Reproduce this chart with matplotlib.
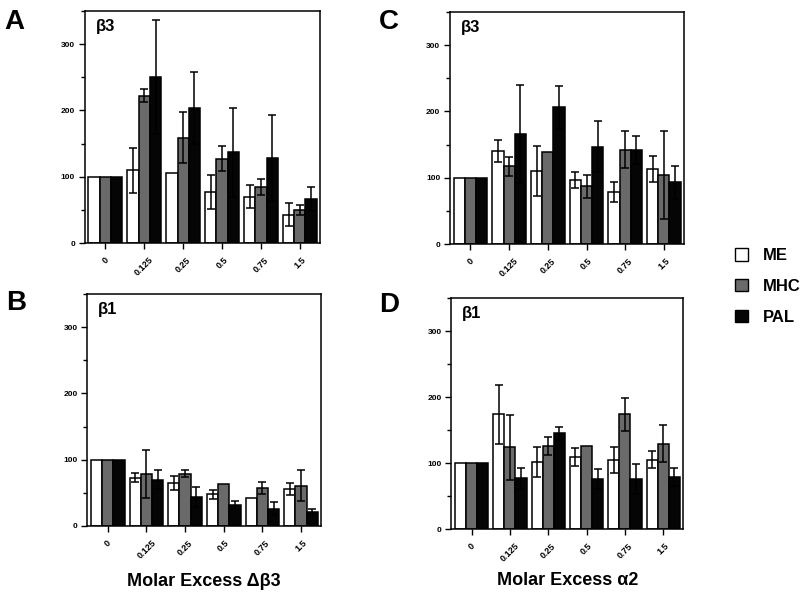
import numpy as np
import matplotlib
matplotlib.use('Agg')
import matplotlib.pyplot as plt
from matplotlib.patches import Patch
from matplotlib.ticker import MultipleLocator

plt.rcParams['font.family'] = ['Liberation Sans', 'DejaVu Sans']

# categories (molar excess) and series
conc = ['0', '0.125', '0.25', '0.5', '0.75', '1.5']
series = ['ME', 'MHC', 'PAL']
colors = ['white', '#6a6a6a', '#050505']

# panel A : beta3 signal, molar excess delta-beta3
a_me = [100, 110, 106, 77, 70, 43]
a_me_err = [0, 34, 0, 25, 17, 18]
a_mhc = [100, 222, 159, 127, 85, 50]
a_mhc_err = [0, 10, 38, 19, 12, 8]
a_pal = [100, 251, 204, 137, 128, 67]
a_pal_err = [0, 86, 54, 67, 65, 18]

# panel B : beta1 signal, molar excess delta-beta3
b_me = [100, 73, 65, 48, 42, 56]
b_me_err = [0, 7, 10, 7, 0, 9]
b_mhc = [100, 78, 79, 63, 58, 61]
b_mhc_err = [0, 36, 5, 0, 9, 23]
b_pal = [100, 70, 44, 31, 26, 21]
b_pal_err = [0, 14, 15, 6, 10, 5]

# panel C : beta3 signal, molar excess alpha2
c_me = [100, 140, 110, 96, 79, 113]
c_me_err = [0, 17, 38, 12, 15, 20]
c_mhc = [100, 117, 139, 87, 142, 104]
c_mhc_err = [0, 15, 0, 17, 28, 66]
c_pal = [100, 166, 206, 147, 142, 93]
c_pal_err = [0, 74, 32, 38, 21, 25]

# panel D : beta1 signal, molar excess alpha2
d_me = [100, 174, 102, 109, 105, 105]
d_me_err = [0, 45, 23, 14, 20, 13]
d_mhc = [100, 124, 126, 126, 174, 129]
d_mhc_err = [0, 49, 14, 0, 25, 28]
d_pal = [100, 77, 145, 76, 76, 79]
d_pal_err = [0, 16, 10, 15, 23, 14]


def draw_panel(ax, vals, errs, subunit):
    x = np.arange(len(conc))
    w = 0.29
    for i, (v, e) in enumerate(zip(vals, errs)):
        pos = x + (i - 1) * w
        ax.bar(pos, v, width=w, color=colors[i], edgecolor='black', linewidth=1.1, zorder=2)
        e = np.array(e, dtype=float)
        m = e > 0
        ax.errorbar(pos[m], np.array(v)[m], yerr=e[m], fmt='none', ecolor='black',
                    elinewidth=1.1, capsize=3, capthick=1.1, zorder=3)
    ax.set_xlim(-0.53, 5.52)
    ax.set_ylim(0, 350)
    ax.set_xticks(x)
    ax.set_xticklabels(conc, rotation=45, fontsize=6.5, fontweight='bold')
    ax.yaxis.set_major_locator(MultipleLocator(100))
    ax.yaxis.set_minor_locator(MultipleLocator(50))
    ax.tick_params(axis='y', which='major', labelsize=6, length=4, width=1, pad=3)
    ax.tick_params(axis='y', which='minor', length=3, width=1)
    ax.tick_params(axis='x', length=4, width=1, pad=5)
    for lab in ax.get_yticklabels():
        lab.set_fontweight('bold')
    for s in ax.spines.values():
        s.set_linewidth(1.1)
    ax.text(0.045, 0.965, subunit, transform=ax.transAxes, va='top', ha='left',
            fontsize=12, fontweight='bold')


fig = plt.figure(figsize=(8, 5.92), dpi=100)
ax_a = fig.add_axes([0.106, 0.5895, 0.294, 0.392])
ax_c = fig.add_axes([0.5625, 0.5878, 0.2925, 0.392])
ax_b = fig.add_axes([0.109, 0.1115, 0.2925, 0.392])
ax_d = fig.add_axes([0.564, 0.1064, 0.29, 0.390])

draw_panel(ax_a, [a_me, a_mhc, a_pal], [a_me_err, a_mhc_err, a_pal_err], 'β3')
draw_panel(ax_b, [b_me, b_mhc, b_pal], [b_me_err, b_mhc_err, b_pal_err], 'β1')
draw_panel(ax_c, [c_me, c_mhc, c_pal], [c_me_err, c_mhc_err, c_pal_err], 'β3')
draw_panel(ax_d, [d_me, d_mhc, d_pal], [d_me_err, d_mhc_err, d_pal_err], 'β1')

ax_b.set_xlabel('Molar Excess Δβ3', fontsize=13, fontweight='bold', labelpad=9)
ax_d.set_xlabel('Molar Excess α2', fontsize=13, fontweight='bold', labelpad=6)

for lbl, (px, py) in zip('ACBD', [(14, 22), (389, 22), (16, 303), (389, 305)]):
    fig.text(px / 800, 1 - py / 592, lbl, fontsize=20, fontweight='bold', ha='center', va='center')

handles = [Patch(facecolor=c, edgecolor='black', linewidth=1.0) for c in colors]
fig.legend(handles, series, loc='upper left', bbox_to_anchor=(727 / 800, 1 - 240 / 592),
           frameon=False, borderpad=0, handlelength=0.75, handleheight=0.75,
           handletextpad=0.9, labelspacing=0.95, prop={'size': 12, 'weight': 'bold'})

fig.savefig('out.png', dpi=100)
